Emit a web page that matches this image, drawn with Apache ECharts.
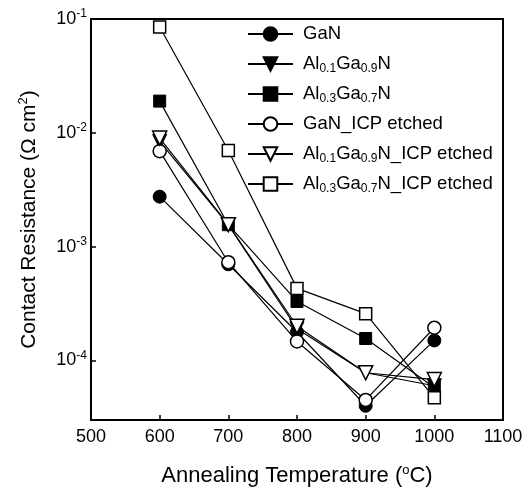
<!DOCTYPE html>
<html>
<head>
<meta charset="utf-8">
<script src="https://cdn.jsdelivr.net/npm/echarts@6/dist/echarts.min.js"></script>
<style>
  html, body { margin: 0; padding: 0; background: #fff; }
  #chart { width: 531px; height: 493px; }
</style>
</head>
<body>
<div id="chart"></div>
<script>
// Annealing temperature (°C)
var temperatures = [600, 700, 800, 900, 1000];

// Contact resistance (Ω cm²)
var gan      = [2.75e-3, 7.0e-4, 1.78e-4, 4.0e-5, 1.5e-4];
var al01     = [8.4e-3, 1.55e-3, 1.9e-4, 7.8e-5, 6.0e-5];
var al03     = [1.9e-2, 1.56e-3, 3.3e-4, 1.56e-4, 5.8e-5];
var ganIcp   = [6.9e-3, 7.3e-4, 1.47e-4, 4.5e-5, 1.94e-4];
var al01Icp  = [9.0e-3, 1.56e-3, 2.0e-4, 7.8e-5, 6.8e-5];
var al03Icp  = [8.5e-2, 7.0e-3, 4.3e-4, 2.58e-4, 4.7e-5];

// axis ticks
var xTicks = [500, 600, 700, 800, 900, 1000, 1100];
var yMin = 3e-5, yMax = 1e-1;

var seriesNames = ['GaN', 'Al0.1Ga0.9N', 'Al0.3Ga0.7N', 'GaN_ICP etched', 'Al0.1Ga0.9N_ICP etched', 'Al0.3Ga0.7N_ICP etched'];
var legendRich = {
  'GaN': 'GaN',
  'Al0.1Ga0.9N': 'Al{s|0.1}Ga{s|0.9}N',
  'Al0.3Ga0.7N': 'Al{s|0.3}Ga{s|0.7}N',
  'GaN_ICP etched': 'GaN_ICP etched',
  'Al0.1Ga0.9N_ICP etched': 'Al{s|0.1}Ga{s|0.9}N_ICP etched',
  'Al0.3Ga0.7N_ICP etched': 'Al{s|0.3}Ga{s|0.7}N_ICP etched'
};

var FONT = '"Liberation Sans", Arial, Helvetica, sans-serif';

function pairs(vals) {
  return temperatures.map(function (t, i) { return [t, vals[i]]; });
}

function makeSeries(name, vals, symbol, size, filled, rotate) {
  return {
    name: name,
    type: 'line',
    data: pairs(vals),
    symbol: symbol,
    symbolSize: size,
    symbolRotate: rotate || 0,
    showAllSymbol: true,
    lineStyle: { color: '#000', width: 1.2 },
    itemStyle: filled
      ? { color: '#000', borderColor: '#000', borderWidth: 1 }
      : { color: '#fff', borderColor: '#000', borderWidth: 1.5 },
    emphasis: { disabled: true },
    animation: false
  };
}

var chart = echarts.init(document.getElementById('chart'));

chart.setOption({
  backgroundColor: '#fff',
  animation: false,
  grid: {
    left: 91, right: 28, top: 19, bottom: 65,
    show: true, borderColor: '#000', borderWidth: 2
  },
  legend: {
    orient: 'vertical',
    left: 242,
    top: 18,
    itemWidth: 45,
    itemHeight: 17,
    itemGap: 8,
    selectedMode: false,
    data: seriesNames,
    formatter: function (name) { return legendRich[name]; },
    textStyle: {
      color: '#000',
      fontFamily: FONT,
      fontSize: 18.5,
      lineHeight: 22,
      padding: [0, 0, 0, 5],
      rich: {
        s: { fontFamily: FONT, fontSize: 12, color: '#000', verticalAlign: 'bottom' }
      }
    }
  },
  xAxis: {
    type: 'value',
    min: xTicks[0],
    max: xTicks[xTicks.length - 1],
    interval: 100,
    name: 'Annealing Temperature ({s|o}C)',
    nameLocation: 'middle',
    nameGap: 44,
    nameTextStyle: {
      color: '#000', fontFamily: FONT, fontSize: 22, lineHeight: 24,
      rich: { s: { fontFamily: FONT, fontSize: 13, color: '#000', verticalAlign: 'top' } }
    },
    axisLine: { lineStyle: { color: '#000', width: 2 } },
    axisTick: { inside: true, length: 5, lineStyle: { color: '#000', width: 1.5 } },
    axisLabel: {
      color: '#000', fontFamily: FONT, fontSize: 18, margin: 8,
      formatter: function (v) { return String(v); }
    },
    splitLine: { show: false }
  },
  yAxis: {
    type: 'log',
    logBase: 10,
    min: yMin,
    max: yMax,
    name: 'Contact Resistance (\u03A9 cm{s|2})',
    nameLocation: 'middle',
    nameGap: 50,
    nameTextStyle: {
      color: '#000', fontFamily: FONT, fontSize: 21, lineHeight: 24,
      rich: { s: { fontFamily: FONT, fontSize: 13, color: '#000', verticalAlign: 'top' } }
    },
    axisLine: { lineStyle: { color: '#000', width: 2 } },
    axisTick: { inside: true, length: 5, lineStyle: { color: '#000', width: 1.5 } },
    axisLabel: {
      margin: 4,
      formatter: function (v) {
        var e = Math.log10(v);
        if (Math.abs(e - Math.round(e)) > 1e-6) return '';
        return '{b|10}{s|' + Math.round(e) + '}';
      },
      rich: {
        b: { fontFamily: FONT, fontSize: 18, color: '#000', lineHeight: 22 },
        s: { fontFamily: FONT, fontSize: 12, color: '#000', verticalAlign: 'top' }
      }
    },
    splitLine: { show: false },
    minorTick: { show: false }
  },
  series: [
    makeSeries(seriesNames[0], gan, 'circle', 13, true),
    makeSeries(seriesNames[1], al01, 'triangle', 14, true, 180),
    makeSeries(seriesNames[2], al03, 'rect', 12, true),
    makeSeries(seriesNames[3], ganIcp, 'circle', 13, false),
    makeSeries(seriesNames[4], al01Icp, 'triangle', 14, false, 180),
    makeSeries(seriesNames[5], al03Icp, 'rect', 12, false)
  ]
});

window.addEventListener('resize', function () { chart.resize(); });
</script>
</body>
</html>
